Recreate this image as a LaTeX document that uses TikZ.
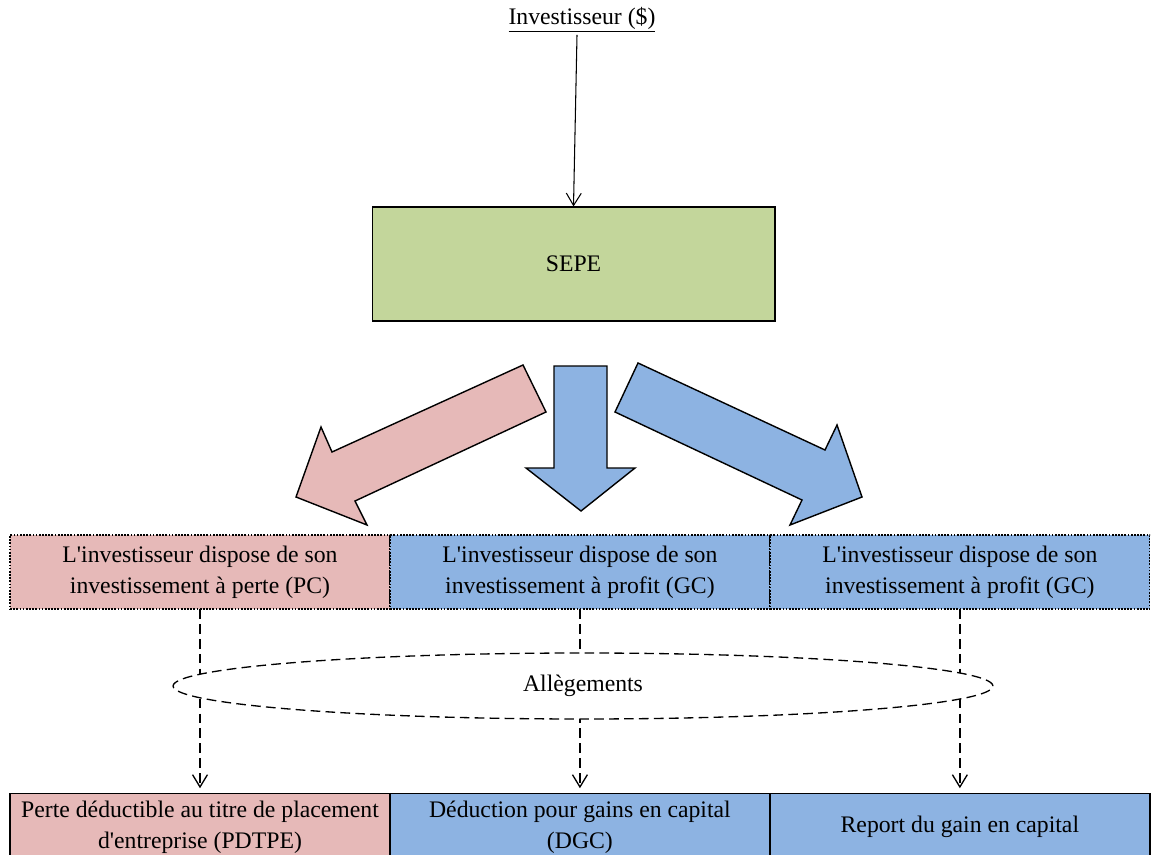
\documentclass[tikz,border=0pt]{standalone}
\usepackage{fontspec}
\setmainfont{Liberation Serif}[Ligatures=TeXOff]
\usetikzlibrary{arrows.meta, calc, positioning, shapes.geometric}
\definecolor{perte}{HTML}{E6B9B8}
\definecolor{profit}{HTML}{8DB3E2}
\definecolor{sepevert}{HTML}{C3D69B}

\begin{document}
\begin{tikzpicture}[x=0.02cm, y=-0.02cm, >={Straight Barb[length=7pt,width=8.5pt]},
		every node/.style={font=\fontsize{13.5}{17.6}\selectfont},
		haut/.style={draw, line width=0.7pt, dash pattern=on 1pt off 0.8pt, minimum width=7.6cm, minimum height=1.48cm, align=center, inner sep=0pt, outer sep=0pt},
		bas/.style={draw, line width=1.1pt, minimum width=7.6cm, minimum height=1.34cm, align=center, inner sep=0pt, outer sep=0pt},
		bloc/.style={draw, line width=0.8pt, line join=miter},
		pointille/.style={line width=0.75pt, dash pattern=on 5.5pt off 3pt}]
	\useasboundingbox (0,0) rectangle (1151,854);

	\node[inner sep=1pt] (inv) at (582,20) {\underline{Investisseur (\$)}};
	\node[draw, line width=0.6pt, fill=sepevert, minimum width=8.06cm, minimum height=2.28cm] (sepe) at (573.5,264) {SEPE};
	\draw[->, line width=0.6pt] ($(inv.south)+(-5,0)$) -- (sepe.north);

	% fleches vers les trois cas
	\filldraw[bloc, fill=perte] (523,365) -- (332,452) -- (321,427) -- (296,497) -- (367,525) -- (355,501) -- (546,412) -- cycle;
	\filldraw[bloc, fill=profit] (554,366) -- (607,366) -- (607,468) -- (635,468) -- (581,511) -- (526,468) -- (554,468) -- cycle;
	\filldraw[bloc, fill=profit] (638,363) -- (825,450) -- (837,425) -- (862,497) -- (790,525) -- (802,500) -- (615,412) -- cycle;

	\node[haut, fill=perte] (pc) at (200,572) {L'investisseur dispose de son\\investissement à perte (PC)};
	\node[haut, fill=profit, right=0pt of pc] (gc1) {L'investisseur dispose de son\\investissement à profit (GC)};
	\node[haut, fill=profit, right=0pt of gc1] (gc2) {L'investisseur dispose de son\\investissement à profit (GC)};

	\node[bas, fill=perte] (pdtpe) at (200,827) {Perte déductible au titre de placement\\d'entreprise (PDTPE)};
	\node[bas, fill=profit, right=0pt of pdtpe] (dgc) {Déduction pour gains en capital\\(DGC)};
	\node[bas, fill=profit, right=0pt of dgc] (report) {Report du gain en capital};

	% allegements
	\foreach \a/\b in {pc/pdtpe, gc1/dgc, gc2/report}
		\draw[->, pointille, shorten >=3pt] (\a.south) -- (\b.north);
	\node[draw, pointille, ellipse, fill=white, minimum width=16.4cm, minimum height=1.32cm, inner sep=0pt] (alleg) at (583,686) {Allègements};
\end{tikzpicture}
\end{document}
